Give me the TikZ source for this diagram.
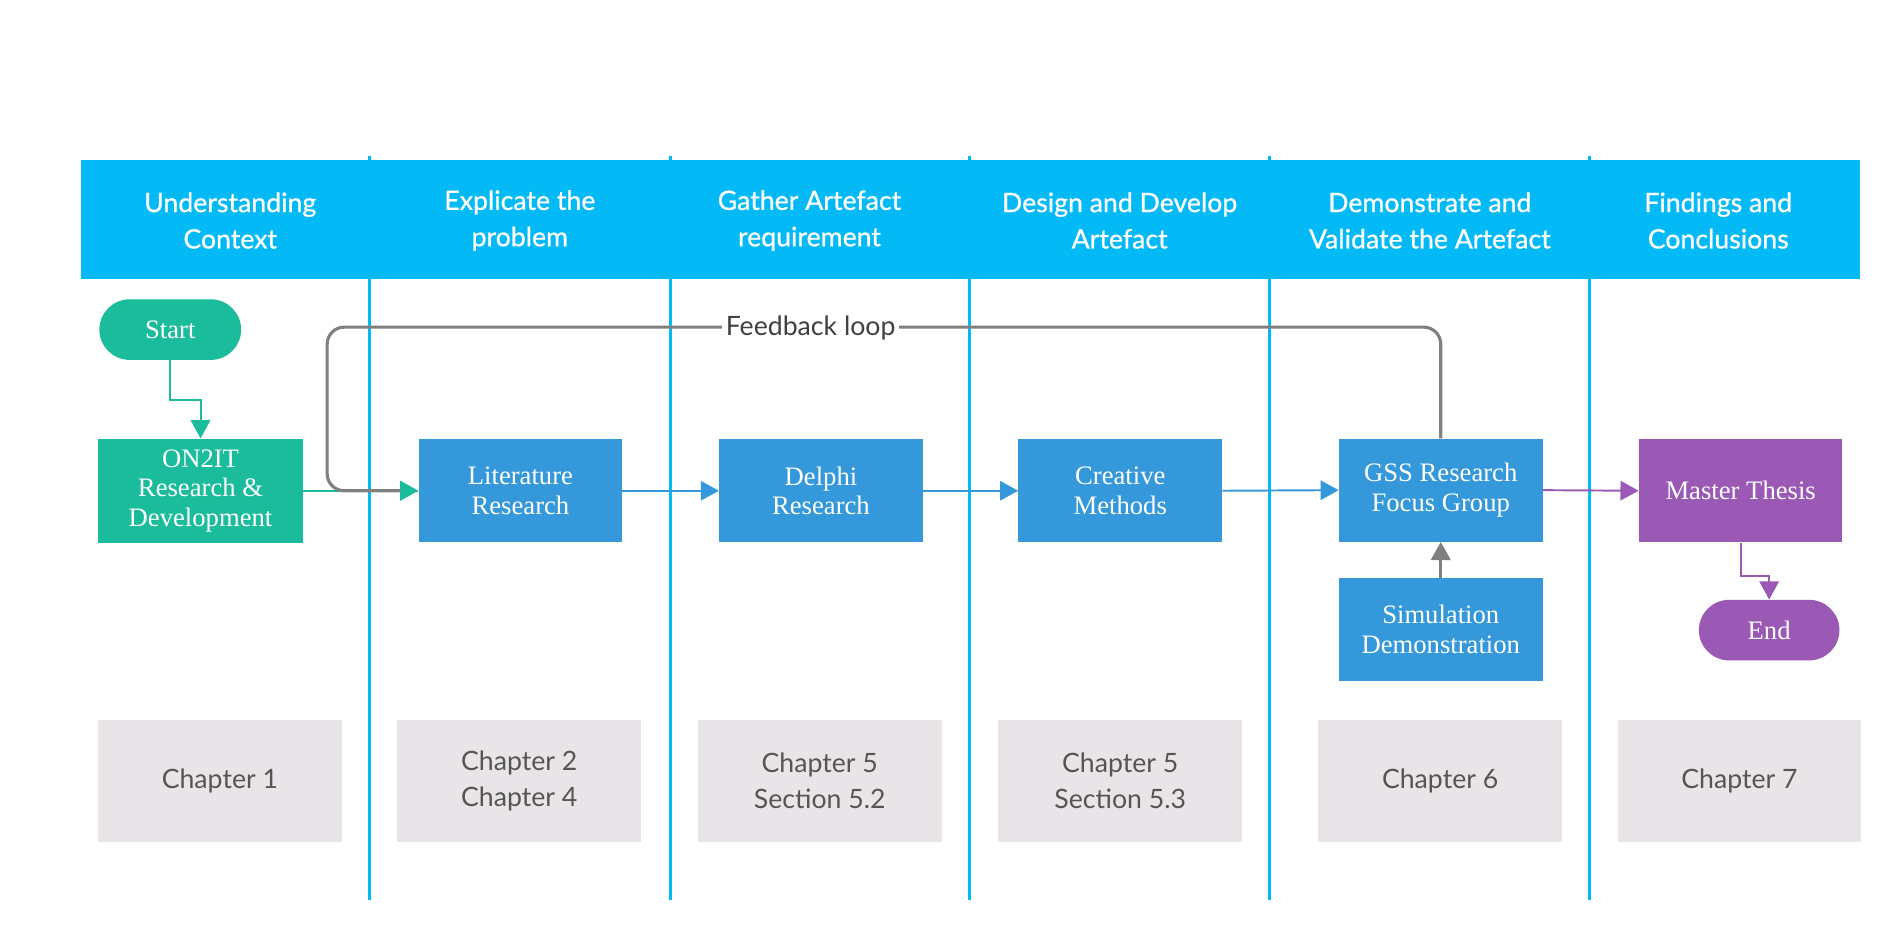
\documentclass[tikz,border=0pt]{standalone}
\usepackage{fontspec}
\setmainfont{Liberation Serif}
\newfontfamily\lato{Lato}
\newfontfamily\latob[FakeBold=0.8]{Lato}
\usetikzlibrary{arrows.meta}
\definecolor{hdr}{RGB}{3,185,246}
\definecolor{cteal}{RGB}{26,188,156}
\definecolor{cblue}{RGB}{52,152,219}
\definecolor{cpurp}{RGB}{155,89,182}
\definecolor{chbox}{RGB}{232,228,232}
\definecolor{chtxt}{RGB}{85,85,85}
\definecolor{loopgray}{RGB}{128,128,128}
\begin{document}
\begin{tikzpicture}[x=1pt,y=-1pt,
  vline/.style={draw=hdr,line width=2.5pt},
  hdrtext/.style={text=white,align=center,font=\latob\fontsize{22}{30}\selectfont},
  procbox/.style={minimum width=168pt,minimum height=85pt,inner sep=2pt,text=white,align=center,font=\fontsize{22}{24.5}\selectfont},
  pill/.style={rounded corners=25pt,minimum width=117pt,minimum height=50pt,inner sep=0pt,text=white,font=\fontsize{22}{24}\selectfont},
  chapbox/.style={fill=chbox,minimum width=201pt,minimum height=101pt,inner sep=0pt,text=chtxt,align=center,font=\lato\fontsize{22}{29.5}\selectfont},
  conn/.style={line width=1.6pt},
  tip/.style={-{Triangle[length=15pt,width=16pt]}},
]
\useasboundingbox (0,0) rectangle (1568,776);
% vertical lane lines
\foreach \x in {305,553,800,1048,1312} \draw[vline] (\x,129) -- (\x,743);
% header bar
\node[fill=hdr,minimum width=1468pt,minimum height=98pt,inner sep=0pt] (hdrbar) at (801,181) {};
\node[hdrtext] (h1) at (190,182) {Understanding\\Context};
\node[hdrtext] (h2) at (429,182) {Explicate the\\problem};
\node[hdrtext] (h3) at (668,182) {Gather Artefact\\requirement};
\node[hdrtext] (h4) at (924,182) {Design and Develop\\Artefact};
\node[hdrtext] (h5) at (1180,182) {Demonstrate and\\Validate the Artefact};
\node[hdrtext] (h6) at (1418,182) {Findings and\\Conclusions};
% nodes
\node[pill,fill=cteal] (start) at (140.5,272) {Start};
\node[procbox,fill=cteal,minimum width=169pt,minimum height=86pt] (on2it) at (165.5,405) {ON2IT\\Research \&\\Development};
\node[procbox,fill=cblue] (lit) at (429.5,405) {Literature\\Research};
\node[procbox,fill=cblue] (delphi) at (677.5,405) {Delphi\\Research};
\node[procbox,fill=cblue] (creative) at (924.5,405) {Creative\\Methods};
\node[procbox,fill=cblue] (gss) at (1189,404.5) {GSS Research\\Focus Group};
\node[procbox,fill=cblue] (sim) at (1189,519.5) {Simulation\\Demonstration};
\node[procbox,fill=cpurp] (master) at (1436.5,405) {Master Thesis};
\node[pill,fill=cpurp,minimum width=116pt] (end) at (1460,520) {End};
% chapter boxes
\node[chapbox] (c1) at (181.5,644.5) {Chapter 1};
\node[chapbox] (c2) at (428.5,644.5) {Chapter 2\\Chapter 4};
\node[chapbox] (c3) at (676.5,644.5) {Chapter 5\\Section 5.2};
\node[chapbox] (c4) at (924.5,644.5) {Chapter 5\\Section 5.3};
\node[chapbox] (c5) at (1188.5,644.5) {Chapter 6};
\node[chapbox] (c6) at (1435.5,644.5) {Chapter 7};
% connectors
\draw[conn,draw=cteal,-{Triangle[length=15pt,width=16pt,fill=cteal]}] (start.south) -- ++(0,33) -| (on2it.north);
\draw[conn,draw=cteal] (on2it.east) -- (lit.west);
\draw[line width=2.6pt,draw=loopgray,rounded corners=14pt,-{Triangle[length=15pt,width=16pt,color=cteal,fill=cteal]}]
  (gss.north) |- (270,270) |- (lit.west);
\node[fill=white,inner sep=3pt,text=black!75,font=\lato\fontsize{22}{24}\selectfont] (fb) at (669,271) {Feedback loop};
\draw[conn,draw=cblue,tip] (lit.east) -- (delphi.west);
\draw[conn,draw=cblue,tip] (delphi.east) -- (creative.west);
\draw[conn,draw=cblue,tip] (creative.east) -- (gss.west);
\draw[conn,draw=cpurp,tip] (gss.east) -- (master.west);
\draw[conn,draw=cpurp,tip] (master.south) -- ++(0,28) -| (end.north);
\draw[line width=2.6pt,draw=loopgray,tip] (sim.north) -- (gss.south);
\end{tikzpicture}
\end{document}
